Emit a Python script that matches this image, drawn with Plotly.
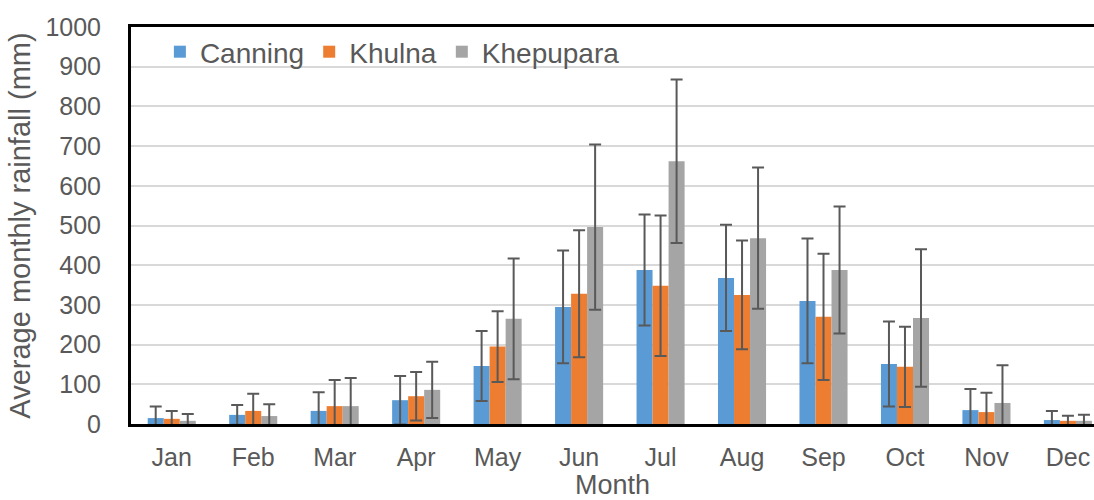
import plotly.graph_objects as go

# rata-rata curah hujan bulanan (mm) dan simpangan baku
months = ["Jan", "Feb", "Mar", "Apr", "May", "Jun", "Jul", "Aug", "Sep", "Oct", "Nov", "Dec"]

canning = [15, 23, 33, 60, 146, 295, 388, 368, 310, 151, 35, 10]
canning_sd = [29, 25, 47, 61, 88, 142, 140, 134, 157, 107, 53, 23]

khulna = [13, 33, 45, 70, 195, 328, 348, 325, 270, 144, 30, 8]
khulna_sd = [20, 43, 66, 61, 89, 160, 177, 137, 159, 101, 49, 13]

khepupara = [8, 20, 45, 86, 265, 496, 662, 468, 388, 267, 53, 8]
khepupara_sd = [17, 30, 71, 71, 152, 208, 206, 178, 160, 173, 95, 15]

series = [
    ("Canning", canning, canning_sd, "#5B9BD5"),
    ("Khulna", khulna, khulna_sd, "#ED7D31"),
    ("Khepupara", khepupara, khepupara_sd, "#A5A5A5"),
]

font_family = "Arial, Liberation Sans, sans-serif"
text_color = "#595959"

fig = go.Figure()
for name, vals, sd, color in series:
    fig.add_trace(go.Bar(
        x=list(range(len(months))), y=vals, name=name,
        marker=dict(color=color, line=dict(width=0)),
        error_y=dict(type="data", array=sd, visible=True,
                     color="#595959", thickness=2, width=6),
    ))

fig.update_layout(
    width=1094, height=500,
    margin=dict(l=131, r=0, t=27, b=76),
    paper_bgcolor="white", plot_bgcolor="white",
    barmode="group", bargap=0.41, bargroupgap=0,
    font=dict(family=font_family, color=text_color, size=25),
    showlegend=True,
    legend=dict(
        orientation="h", x=0.03, y=1.0, xanchor="left", yanchor="top",
        font=dict(size=28, color=text_color), bgcolor="rgba(0,0,0,0)",
    ),
    xaxis=dict(
        range=[-0.5, 11.32],
        tickmode="array", tickvals=list(range(len(months))), ticktext=months,
        showline=True, linecolor="black", linewidth=3, mirror=True,
        showgrid=False, ticks="", ticklabelstandoff=9,
        tickfont=dict(size=25, color=text_color),
        title=dict(text="Month", font=dict(size=27, color=text_color), standoff=2),
    ),
    yaxis=dict(
        range=[0, 1000], dtick=100,
        showline=True, linecolor="black", linewidth=3, mirror=False,
        showgrid=True, gridcolor="#D9D9D9", gridwidth=2,
        zeroline=False, ticks="", ticklabelstandoff=22,
        tickfont=dict(size=25, color=text_color),
        title=dict(text="Average monthly rainfall (mm)",
                   font=dict(size=29, color=text_color), standoff=7),
    ),
)

# buang margin bawaan body supaya figure pas di jendela
fig.write_html(
    "out.html",
    config={"displayModeBar": False},
    post_script="document.body.style.margin='0';document.body.style.overflow='hidden';",
)
